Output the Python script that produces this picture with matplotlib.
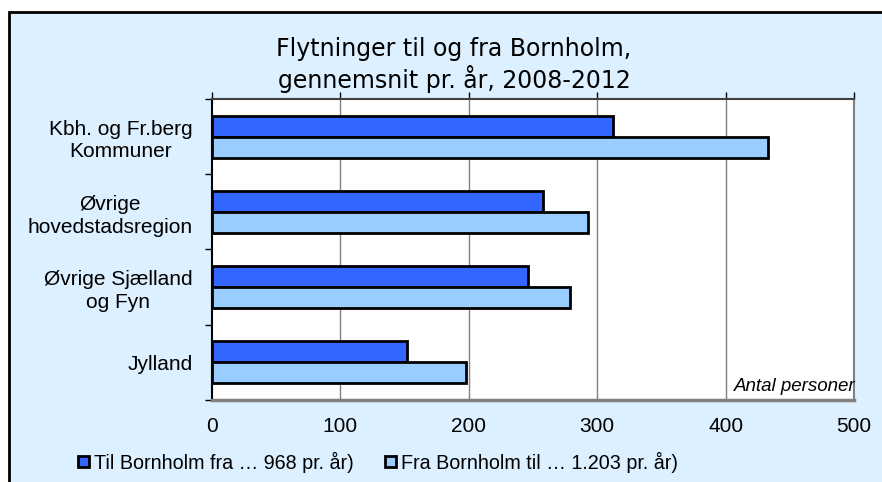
import numpy as np
import matplotlib
matplotlib.use("Agg")
import matplotlib.pyplot as plt
from matplotlib.patches import Rectangle, Patch

categories = ["Kbh. og Fr.berg\nKommuner", "Øvrige\nhovedstadsregion",
              "Øvrige Sjælland\nog Fyn", "Jylland"]
til_bornholm = [312, 258, 246, 152]
fra_bornholm = [433, 293, 279, 198]
series_labels = ["Til Bornholm fra … 968 pr. år)", "Fra Bornholm til … 1.203 pr. år)"]
x_ticks = [0, 100, 200, 300, 400, 500]

dark = "#3366FF"
light = "#99CCFF"
bg = "#DCF0FF"

plt.rcParams["font.family"] = ["Liberation Sans", "DejaVu Sans"]

fig = plt.figure(figsize=(8.82, 4.82), dpi=100, facecolor="white")

# chart frame (left and top edges visible, rest runs off the image)
frame = Rectangle((8.5 / 882, -0.05), 1.0, (482 - 12) / 482 + 0.05,
                  transform=fig.transFigure, facecolor=bg, edgecolor="black",
                  linewidth=2, zorder=-1)
fig.add_artist(frame)

ax = fig.add_axes([212 / 882, 82 / 482, 642 / 882, 301 / 482])
ax.set_facecolor("white")

y = np.arange(len(categories))
h = 0.28
ax.barh(y - h / 2, til_bornholm, height=h, color=dark, edgecolor="black",
        linewidth=2, zorder=3)
ax.barh(y + h / 2, fra_bornholm, height=h, color=light, edgecolor="black",
        linewidth=2, zorder=3)

ax.set_xlim(0, 500)
ax.set_ylim(len(categories) - 0.5, -0.5)

ax.set_xticks(x_ticks)
ax.set_xticklabels([str(t) for t in x_ticks], fontsize=15)
ax.tick_params(axis="x", which="major", top=True, bottom=False,
               labelbottom=True, labeltop=False, direction="out",
               length=5, width=1, color="black", pad=7)
for t in x_ticks[1:-1]:
    ax.axvline(t, color="#808080", linewidth=1, zorder=1)

ax.set_yticks(np.arange(-0.5, len(categories), 1.0))
ax.set_yticklabels([])
ax.set_yticks(y, minor=True)
ax.set_yticklabels(categories, minor=True, fontsize=15, ha="right",
                   multialignment="center", linespacing=1.25)
ax.tick_params(axis="y", which="major", direction="out", length=5,
               width=1, color="black")
ax.tick_params(axis="y", which="minor", length=0, pad=14)

ax.spines["left"].set_color("black")
ax.spines["left"].set_linewidth(1.5)
ax.spines["top"].set_color("#404040")
ax.spines["top"].set_linewidth(1.5)
ax.spines["bottom"].set_color("#808080")
ax.spines["bottom"].set_linewidth(2.5)
ax.spines["right"].set_color("#808080")
ax.spines["right"].set_linewidth(1.5)

ax.text(1.003, 0.045, "Antal personer", transform=ax.transAxes, ha="right",
        va="center", fontsize=13.5, style="italic", zorder=5)

fig.text(454 / 882, 1 - 65 / 482, "Flytninger til og fra Bornholm,\ngennemsnit pr. år, 2008-2012",
         ha="center", va="center", fontsize=17, family="DejaVu Sans",
         linespacing=1.15)

handles = [Patch(facecolor=dark, edgecolor="black", linewidth=2),
           Patch(facecolor=light, edgecolor="black", linewidth=2)]
fig.legend(handles, series_labels, loc="center left",
           bbox_to_anchor=(78 / 882, 1 - 462 / 482), ncol=2, frameon=False,
           fontsize=14.2, handlelength=0.55, handleheight=0.55,
           handletextpad=0.25, columnspacing=1.6, borderpad=0,
           borderaxespad=0)

fig.savefig("out.png", dpi=100, facecolor=fig.get_facecolor())
